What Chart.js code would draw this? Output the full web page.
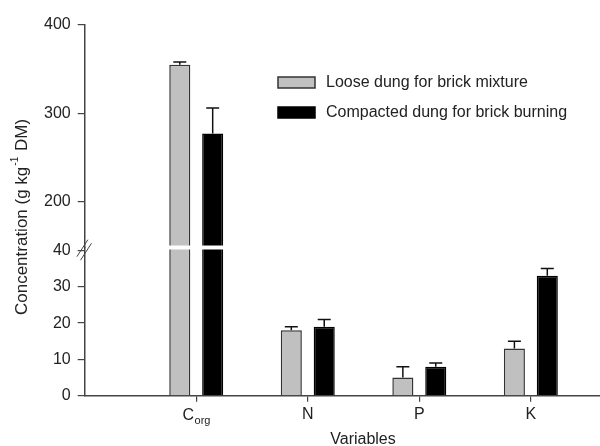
<!DOCTYPE html>
<html>
<head>
<meta charset="utf-8">
<script src="https://cdn.jsdelivr.net/npm/chart.js@4.4.0/dist/chart.umd.min.js"></script>
<style>
html, body { margin: 0; padding: 0; background: #fff; }
#wrap { width: 600px; height: 446px; }
</style>
</head>
<body>
<div id="wrap"><canvas id="chart"></canvas></div>
<script>
// values
const categories = ['C_org', 'N', 'P', 'K'];
const seriesNames = ['Loose dung for brick mixture', 'Compacted dung for brick burning'];
const loose = [355, 18, 5, 13];
const looseErr = [3, 1, 3, 2];
const compacted = [277, 19, 8, 33];
const compactedErr = [29, 2, 1, 2];
const lowerTicks = [0, 10, 20, 30, 40];
const upperTicks = [200, 300, 400];

const FONT = 'Liberation Sans, Arial, sans-serif';
const INK = '#222';
const AXIS = '#444';

Chart.defaults.font.family = FONT;
Chart.defaults.font.size = 16;
Chart.defaults.color = INK;

const points = arr => arr.map((v, i) => ({ x: i + 1, y: v }));

function barSet(label, values, errors, axis, stack, fill, edge) {
    return {
        label: label,
        data: points(values),
        errors: errors,
        yAxisID: axis,
        stack: stack,
        backgroundColor: fill,
        borderColor: edge,
        borderWidth: 1.5,
        borderSkipped: 'start',
        categoryPercentage: 0.59,
        barPercentage: 0.64
    };
}

const datasets = [
    barSet(seriesNames[0], loose, looseErr, 'yLow', 'loose', '#c0c0c0', '#333'),
    barSet(seriesNames[0], loose, looseErr, 'yHigh', 'loose', '#c0c0c0', '#333'),
    barSet(seriesNames[1], compacted, compactedErr, 'yLow', 'compact', '#000', '#000'),
    barSet(seriesNames[1], compacted, compactedErr, 'yHigh', 'compact', '#000', '#000')
];

function splitLabel(s) {
    const p = s.split('_');
    return { main: p[0], sub: p[1] || '' };
}

const decor = {
    id: 'decor',
    beforeDatasetDraw(chart, args) {
        const y = args.meta.yScale;
        const ctx = chart.ctx;
        let top, bottom;
        if (y.id === 'yLow') {
            top = y.top + 2;
            bottom = y.bottom + 3;
        } else {
            top = y.top - 10;
            bottom = y.bottom - 2;
        }
        ctx.save();
        ctx.beginPath();
        ctx.rect(0, top, chart.width, bottom - top);
        ctx.clip();
    },
    afterDatasetDraw(chart, args) {
        const ctx = chart.ctx;
        const meta = args.meta;
        const ds = chart.data.datasets[args.index];
        ctx.strokeStyle = '#111';
        ctx.lineWidth = 1.5;
        meta.data.forEach((bar, i) => {
            const top = meta.yScale.getPixelForValue(ds.data[i].y + ds.errors[i]);
            ctx.beginPath();
            ctx.moveTo(bar.x, bar.y);
            ctx.lineTo(bar.x, top);
            ctx.moveTo(bar.x - 6.5, top);
            ctx.lineTo(bar.x + 6.5, top);
            ctx.stroke();
        });
        ctx.restore();
    },
    afterDraw(chart) {
        const ctx = chart.ctx;
        const xs = chart.scales.x;
        const low = chart.scales.yLow;
        ctx.save();

        // subscripted category labels
        categories.forEach((c, i) => {
            const l = splitLabel(c);
            if (!l.sub) return;
            ctx.font = '16px ' + FONT;
            const w1 = ctx.measureText(l.main).width;
            ctx.font = '11px ' + FONT;
            const w2 = ctx.measureText(l.sub).width;
            const x0 = xs.getPixelForValue(i + 1) - (w1 + w2) / 2;
            ctx.fillStyle = INK;
            ctx.textBaseline = 'alphabetic';
            ctx.textAlign = 'left';
            ctx.font = '16px ' + FONT;
            ctx.fillText(l.main, x0, 420);
            ctx.font = '11px ' + FONT;
            ctx.fillText(l.sub, x0 + w1 + 0.5, 424);
        });

        // axis break marks
        const j = low.top + 2;
        const ax = chart.chartArea.left;
        ctx.strokeStyle = AXIS;
        ctx.lineWidth = 1;
        [-1.8, 1.8].forEach(d => {
            ctx.beginPath();
            ctx.moveTo(ax - 6 + d, j + 9 + d);
            ctx.lineTo(ax + 5 + d, j - 8 + d);
            ctx.stroke();
        });

        // y axis title with superscript
        ctx.fillStyle = INK;
        ctx.textBaseline = 'middle';
        ctx.textAlign = 'left';
        const t1 = 'Concentration (g kg', t2 = '-1', t3 = ' DM)';
        ctx.font = '17px ' + FONT;
        const a = ctx.measureText(t1).width, c = ctx.measureText(t3).width;
        ctx.font = '10px ' + FONT;
        const b = ctx.measureText(t2).width + 2;
        ctx.translate(22, 217);
        ctx.rotate(-Math.PI / 2);
        let x = -(a + b + c) / 2;
        ctx.font = '17px ' + FONT;
        ctx.fillText(t1, x, 0);
        ctx.font = '10px ' + FONT;
        ctx.fillText(t2, x + a + 1, -7);
        ctx.font = '17px ' + FONT;
        ctx.fillText(t3, x + a + b, 0);
        ctx.setTransform(1, 0, 0, 1, 0, 0);

        // x axis title
        ctx.font = '16px ' + FONT;
        ctx.textAlign = 'center';
        ctx.textBaseline = 'alphabetic';
        ctx.fillText('Variables', 363, 444);

        // legend
        const fills = ['#c0c0c0', '#000'];
        const edges = ['#333', '#000'];
        seriesNames.forEach((name, k) => {
            const y = 77 + k * 30;
            ctx.fillStyle = fills[k];
            ctx.fillRect(278, y, 37, 11);
            ctx.strokeStyle = edges[k];
            ctx.lineWidth = 1.5;
            ctx.strokeRect(278, y, 37, 11);
            ctx.fillStyle = INK;
            ctx.textAlign = 'left';
            ctx.textBaseline = 'middle';
            ctx.font = '16px ' + FONT;
            ctx.fillText(name, 326, y + 6);
        });
        ctx.restore();
    }
};

function yAxis(min, max, ticks, weight) {
    return {
        type: 'linear',
        position: 'left',
        stack: 'conc',
        stackWeight: weight,
        stacked: false,
        min: min,
        max: max,
        afterBuildTicks: axis => { axis.ticks = ticks.map(v => ({ value: v })); },
        grid: { drawOnChartArea: false, drawTicks: true, tickLength: 7, color: AXIS, lineWidth: 1.2 },
        border: { display: true, color: AXIS, width: 1.5 },
        ticks: { padding: 7, color: INK, font: { size: 16 }, autoSkip: false }
    };
}

new Chart(document.querySelector('#chart'), {
    type: 'bar',
    data: { datasets: datasets },
    plugins: [decor],
    options: {
        responsive: true,
        maintainAspectRatio: false,
        animation: false,
        layout: { padding: { left: 37, top: 25, right: 0, bottom: 19 } },
        plugins: { legend: { display: false }, tooltip: { enabled: false } },
        scales: {
            x: {
                type: 'linear',
                offset: false,
                min: 0,
                max: 4.62,
                afterBuildTicks: axis => { axis.ticks = categories.map((c, i) => ({ value: i + 1 })); },
                grid: { offset: false, drawOnChartArea: false, drawTicks: true, tickLength: 6, color: AXIS, lineWidth: 1.2 },
                border: { display: true, color: AXIS, width: 1.5 },
                ticks: {
                    padding: 3,
                    color: INK,
                    font: { size: 16 },
                    maxRotation: 0,
                    autoSkip: false,
                    callback: v => {
                        const l = splitLabel(categories[v - 1] || '');
                        return l.sub ? '' : l.main;
                    }
                }
            },
            yLow: yAxis(0, 40.8, lowerTicks, 148),
            yHigh: yAxis(148, 400, upperTicks, 222)
        }
    }
});
</script>
</body>
</html>
